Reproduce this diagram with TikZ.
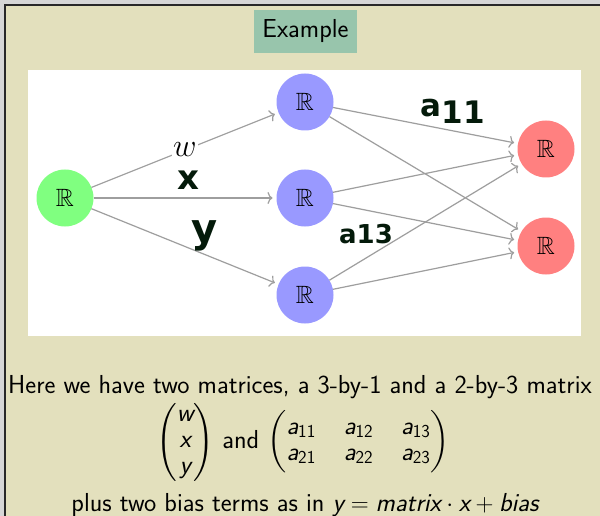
\documentclass[tikz,border=0pt]{standalone}
\usepackage{amsmath,amssymb}
\usepackage{fontspec}
\newfontfamily\handfont{DejaVu Sans Bold}
\usetikzlibrary{arrows.meta}
\definecolor{outergray}{RGB}{214,214,214}
\definecolor{cream}{RGB}{227,224,189}
\definecolor{framecol}{RGB}{40,40,40}
\definecolor{exgreen}{RGB}{152,197,172}
\definecolor{edgegray}{RGB}{158,158,158}
\definecolor{ink}{RGB}{4,26,10}
\newcommand\sit[1]{\text{\sffamily\itshape #1}}
\newcommand\sfup[1]{\text{\sffamily #1}}
\begin{document}
\begin{tikzpicture}[x=1pt,y=-1pt,
  neuron/.style={circle, minimum size=57pt, inner sep=0pt, outer sep=0pt, font=\fontsize{25}{25}\selectfont},
  edge/.style={draw=edgegray, line width=1.2pt, -{To[length=5pt,width=12pt]}, shorten >=4pt},
  wlabel/.style={fill=white, inner sep=1pt, font=\fontsize{24}{24}\selectfont},
  hand/.style={text=ink, font=\handfont\fontsize{34}{34}\selectfont, inner sep=0pt},
  bodytext/.style={font=\sffamily\fontsize{26}{26}\selectfont, inner sep=0pt}]
\useasboundingbox (0,0) rectangle (600,516);
\fill[outergray] (0,0) rectangle (600,516);
\fill[cream] (4,4) rectangle (600,516);
\draw[framecol, line width=2pt] (5,516) -- (5,5) -- (600,5);
\node[fill=exgreen, minimum width=103pt, minimum height=43pt, inner sep=0pt,
      font=\sffamily\fontsize{26}{26}\selectfont] (ex) at (305.5,31.5) {Example};
\fill[white] (28,70) rectangle (581,336);
\node[neuron, fill=green!50] (in) at (65,198) {$\mathbb{R}$};
\node[neuron, fill=blue!40] (h1) at (305,102) {$\mathbb{R}$};
\node[neuron, fill=blue!40] (h2) at (305,198) {$\mathbb{R}$};
\node[neuron, fill=blue!40] (h3) at (305,295) {$\mathbb{R}$};
\node[neuron, fill=red!50] (o1) at (546,149) {$\mathbb{R}$};
\node[neuron, fill=red!50] (o2) at (546,246) {$\mathbb{R}$};
\draw[edge] (in) -- (h2);
\draw[edge] (in) -- (h3);
\foreach \a in {h1,h2,h3}{\foreach \b in {o1,o2}{\draw[edge] (\a) -- (\b);}}
\draw[edge] (in) -- node[wlabel] (wl) {\scalebox{1.3}{$w$}} (h1);
\node[hand, font=\handfont\fontsize{34}{34}\selectfont] (hx) at (188,180) {x};
\node[hand, font=\handfont\fontsize{40}{40}\selectfont] (hy) at (205,236) {y};
\node[hand, font=\handfont\fontsize{31}{31}\selectfont] (ha11) at (453,111) {a\raisebox{-7pt}{11}};
\node[hand, font=\handfont\fontsize{26}{26}\selectfont] (ha13) at (366,234) {a13};
\node[bodytext] (l1) at (300,387) {Here we have two matrices, a 3-by-1 and a 2-by-3 matrix};
\node[bodytext, font=\sffamily\fontsize{26}{26}\selectfont] (l2) at (303,442) {\setlength\arraycolsep{14pt}$\begin{pmatrix}\sit{w}\\ \sit{x}\\ \sit{y}\end{pmatrix}$ and $\begin{pmatrix}\sit{a}_{\sfup{11}} & \sit{a}_{\sfup{12}} & \sit{a}_{\sfup{13}}\\ \sit{a}_{\sfup{21}} & \sit{a}_{\sfup{22}} & \sit{a}_{\sfup{23}}\end{pmatrix}$};
\node[bodytext] (l3) at (305,505) {plus two bias terms as in $\sit{y} = \sit{matrix}\cdot \sit{x} + \sit{bias}$};
\end{tikzpicture}
\end{document}
